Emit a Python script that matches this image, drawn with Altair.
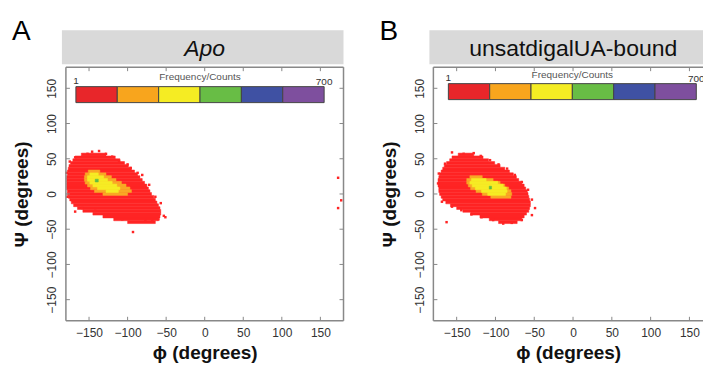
import altair as alt
import pandas as pd

FONT = "Liberation Sans"
DOMAIN = [-180, 180]
TICKS = [-150, -100, -50, 0, 50, 100, 150]
W_A, H = 278, 254
# panel B is cut by the right edge of the figure at phi ~ 167.5
B_DOMAIN = [-180, 167.5]
W_B = 270
ROW = 4  # psi height of one histogram row (degrees)

LEVELS = ["low", "mid", "high", "peak"]
LEVEL_COLORS = ["#FF2424", "#F9A825", "#F6EC24", "#5DBB46"]

CB_COLORS = ["#E8262A", "#F8A51D", "#F5EC23", "#68BD45", "#3F51A3", "#7E4F9E"]
CB_MIN, CB_TITLE, CB_MAX = "1", "Frequency/Counts", "700"

# ---------------- Panel A : Apo ----------------
A_red_psi = [56, 52, 48, 44, 40, 36, 32, 28, 24, 20, 16, 12, 8, 4, 0, -4, -8, -12, -16, -20, -24, -28, -32, -36, -40]
A_red_lo = [-160, -168, -171, -174, -176, -177, -178, -178, -179, -179, -179, -179, -179, -178, -178, -177, -175, -173, -170, -165, -158, -145, -132, -118, -100]
A_red_hi = [-128, -116, -110, -104, -99, -95, -91, -87, -84, -81, -78, -75, -73, -71, -69, -66, -64, -62, -60, -58, -57, -57, -58, -60, -64]
A_org_psi = [32, 28, 24, 20, 16, 12, 8, 4, 0]
A_org_lo = [-151, -155, -156, -156, -155, -152, -148, -143, -132]
A_org_hi = [-136, -128, -121, -115, -108, -102, -97, -95, -100]
A_yel_psi = [28, 24, 20, 16, 12, 8, 4]
A_yel_lo = [-149, -152, -152, -149, -145, -139, -128]
A_yel_hi = [-138, -131, -126, -120, -114, -110, -112]
A_grn_psi = [19]
A_grn_lo = [-142]
A_grn_hi = [-138]
A_out_phi = [-146, -137, -128, -152, -120, -111, -100, -96, -87, -81, -72, -64, -57, -53, -51, -60, -68, -77, -93,
             -107, -124, -142, -159, -168, -178, -179, -175, -168, 173, 177, 173]
A_out_psi = [60, 61, 57, 57, 53, 47, 42, 37, 30, 27, 13, -4, -13, -31, -33, -36, -38, -38, -54,
             -36, -31, -24, -20, -25, -4, 30, 46, 52, 23, -9, -20]

# ---------------- Panel B : unsatdigalUA-bound ----------------
B_red_psi = [56, 52, 48, 44, 40, 36, 32, 28, 24, 20, 16, 12, 8, 4, 0, -4, -8, -12, -16, -20, -24, -28, -32, -36, -40]
B_red_lo = [-148, -156, -159, -163, -166, -168, -170, -172, -173, -174, -174, -174, -173, -173, -172, -170, -168, -164, -158, -150, -142, -132, -120, -108, -96]
B_red_hi = [-128, -116, -109, -101, -94, -88, -82, -77, -73, -70, -66, -63, -61, -59, -58, -57, -56, -55, -55, -56, -57, -60, -63, -66, -72]
B_org_psi = [24, 20, 16, 12, 8, 4, 0, -4]
B_org_lo = [-133, -137, -137, -135, -132, -125, -117, -106]
B_org_hi = [-117, -103, -94, -88, -83, -80, -79, -80]
B_yel_psi = [20, 16, 12, 8, 4, 0]
B_yel_lo = [-131, -133, -130, -126, -118, -110]
B_yel_hi = [-112, -97, -90, -86, -85, -87]
B_grn_psi = [9]
B_grn_lo = [-108]
B_grn_hi = [-105]
B_out_phi = [-156, -141, -128, -119, -107, -96, -85, -75, -66, -58, -53, -49, -53, -66, -79, -90, -103,
             -118, -131, -144, -156, -163, -169, -174, -173, -165]
B_out_psi = [59, 57, 58, 54, 48, 42, 36, 27, 17, 6, -8, -20, -30, -37, -41, -42, -37,
             -33, -29, -23, -18, -40, -11, 15, 29, 43]


def blob_frame(regions):
    rows = []
    for level, (psi, lo, hi) in zip(LEVELS, regions):
        for p, a, b in zip(psi, lo, hi):
            rows.append({"level": level, "lo": a, "hi": b, "p0": p - ROW / 2, "p1": p + ROW / 2})
    return pd.DataFrame(rows)


def make_axes(h):
    xaxis = alt.Axis(values=TICKS, ticks=False, domain=False, grid=False,
                     labelFont=FONT, labelFontSize=12, labelColor="#333", labelPadding=7,
                     title="ϕ (degrees)", titleFont=FONT, titleFontSize=19,
                     titleFontWeight="bold", titleColor="#111", titlePadding=5)
    yaxis = alt.Axis(values=TICKS, ticks=False, domain=False, grid=False,
                     labelFont=FONT, labelFontSize=12, labelColor="#333", labelPadding=10,
                     labelAngle=270, labelAlign="center", labelBaseline="alphabetic",
                     title="Ψ (degrees)", titleFont=FONT, titleFontSize=19,
                     titleFontWeight="bold", titleColor="#111",
                     titleX=-44, titleY=h / 2, titleAlign="center", titleBaseline="middle")
    return xaxis, yaxis


def panel(letter, title, italic, regions, out_phi, out_psi, w, xdomain, full_w, right_side, cb):
    xs = alt.Scale(domain=xdomain, nice=False, zero=False)
    ys = alt.Scale(domain=DOMAIN, nice=False, zero=False)
    xaxis, yaxis = make_axes(H)
    X = lambda f: alt.X(f, scale=xs, axis=xaxis)
    Y = lambda f: alt.Y(f, scale=ys, axis=yaxis)
    one = pd.DataFrame({"k": [0]})
    layers = []

    # header band and panel letter
    layers.append(alt.Chart(one).mark_rect(color="#D9D9D9").encode(
        x=alt.value(-4), x2=alt.value(w), y=alt.value(-37), y2=alt.value(-3)))
    layers.append(alt.Chart(one).mark_text(
        text=title, font=FONT, fontSize=23, fontStyle="italic" if italic else "normal",
        color="#111", align="center", baseline="middle").encode(
        x=alt.value(full_w / 2), y=alt.value(-18)))
    layers.append(alt.Chart(one).mark_text(
        text=letter, font=FONT, fontSize=28, color="#000", align="left", baseline="top").encode(
        x=alt.value(-54), y=alt.value(-49)))

    # density histogram
    df = blob_frame(regions)
    for lev, col in zip(LEVELS, LEVEL_COLORS):
        layers.append(alt.Chart(df[df.level == lev]).mark_rect(
            color=col, stroke=col, strokeWidth=0.5).encode(
            x=X("lo:Q"), x2="hi:Q", y=Y("p0:Q"), y2="p1:Q"))
    layers.append(alt.Chart(pd.DataFrame({"phi": out_phi, "psi": out_psi})).mark_square(
        size=6, color=LEVEL_COLORS[0], opacity=1).encode(x=X("phi:Q"), y=Y("psi:Q")))

    # frame
    fr = dict(color="#888", strokeWidth=1.5)
    layers.append(alt.Chart(one).mark_rule(**fr).encode(x=alt.value(0), y=alt.value(0), y2=alt.value(H)))
    layers.append(alt.Chart(one).mark_rule(**fr).encode(x=alt.value(0), x2=alt.value(w), y=alt.value(0)))
    layers.append(alt.Chart(one).mark_rule(**fr).encode(x=alt.value(0), x2=alt.value(w), y=alt.value(H)))
    if right_side:
        layers.append(alt.Chart(one).mark_rule(**fr).encode(x=alt.value(w), y=alt.value(0), y2=alt.value(H)))

    # inward ticks
    tdf = pd.DataFrame({"t": TICKS})
    tick = dict(color="#888", strokeWidth=1)
    layers.append(alt.Chart(tdf).mark_rule(**tick).encode(x=X("t:Q"), y=alt.value(0), y2=alt.value(4)))
    layers.append(alt.Chart(tdf).mark_rule(**tick).encode(x=X("t:Q"), y=alt.value(H), y2=alt.value(H - 4)))
    layers.append(alt.Chart(tdf).mark_rule(**tick).encode(y=Y("t:Q"), x=alt.value(0), x2=alt.value(4)))
    if right_side:
        layers.append(alt.Chart(tdf).mark_rule(**tick).encode(y=Y("t:Q"), x=alt.value(w), x2=alt.value(w - 4)))

    # colour bar legend
    x0, x1, y0, y1, ty, ly = cb
    seg = (x1 - x0) / len(CB_COLORS)
    for i, c in enumerate(CB_COLORS):
        layers.append(alt.Chart(one).mark_rect(fill=c, stroke="#444", strokeWidth=1).encode(
            x=alt.value(x0 + i * seg), x2=alt.value(x0 + (i + 1) * seg),
            y=alt.value(y0), y2=alt.value(y1)))
    layers.append(alt.Chart(one).mark_text(text=CB_TITLE, font=FONT, fontSize=10, color="#555",
                                           align="center", baseline="middle").encode(
        x=alt.value((x0 + x1) / 2), y=alt.value(ty)))
    layers.append(alt.Chart(one).mark_text(text=CB_MIN, font=FONT, fontSize=10, color="#333",
                                           align="center", baseline="middle").encode(
        x=alt.value(x0), y=alt.value(ly)))
    layers.append(alt.Chart(one).mark_text(text=CB_MAX, font=FONT, fontSize=10, color="#333",
                                           align="center", baseline="middle", clip=True).encode(
        x=alt.value(x1), y=alt.value(ly + 1)))

    return alt.layer(*layers).properties(width=w, height=H)


A = panel("A", "Apo", True,
          [(A_red_psi, A_red_lo, A_red_hi), (A_org_psi, A_org_lo, A_org_hi),
           (A_yel_psi, A_yel_lo, A_yel_hi), (A_grn_psi, A_grn_lo, A_grn_hi)],
          A_out_phi, A_out_psi, W_A, DOMAIN, W_A, True, (10, 258.6, 19.5, 35.5, 10, 13.5))
B = panel("B", "unsatdigalUA-bound", False,
          [(B_red_psi, B_red_lo, B_red_hi), (B_org_psi, B_org_lo, B_org_hi),
           (B_yel_psi, B_yel_lo, B_yel_hi), (B_grn_psi, B_grn_lo, B_grn_hi)],
          B_out_phi, B_out_psi, W_B, B_DOMAIN, 280, False, (15, 263.3, 16.5, 32.5, 8, 11))

chart = alt.hconcat(A, B, spacing=90, bounds="flush").configure_view(
    stroke=None).properties(
    padding={"left": 12, "top": 18, "right": 0, "bottom": 0}, background="white")

chart.save("out.html", embed_options={"renderer": "svg", "actions": False})
